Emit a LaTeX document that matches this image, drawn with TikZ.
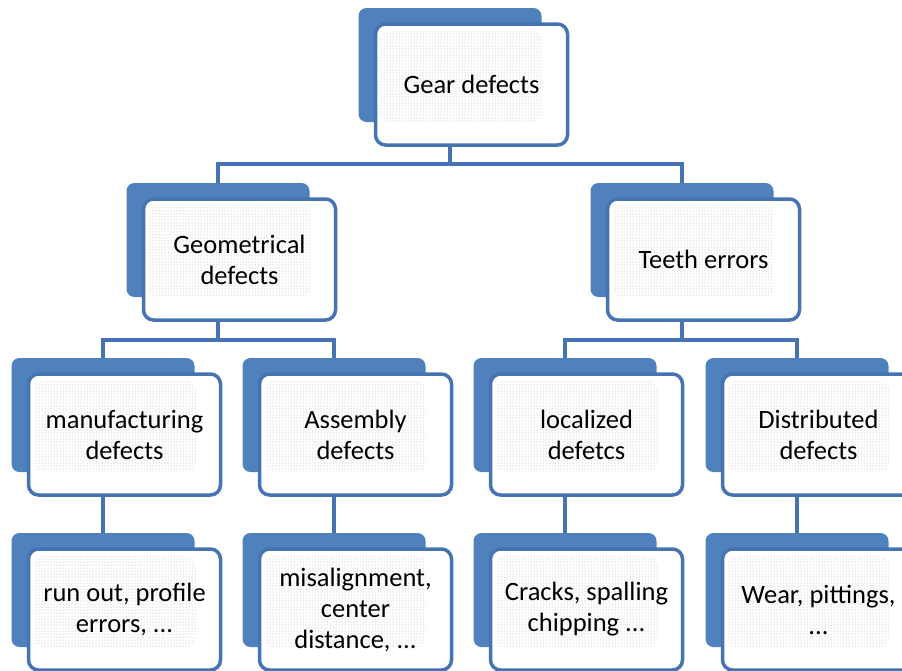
\documentclass[tikz,border=0pt]{standalone}
\usepackage{fontspec}
\setmainfont{Carlito}
\usetikzlibrary{patterns}
\definecolor{boxblue}{RGB}{79,129,189}
\definecolor{lineblue}{RGB}{70,115,178}

\begin{document}
\begin{tikzpicture}[x=1pt,y=-1pt,back/.style={shape=rectangle,fill=boxblue,rounded corners=8pt,minimum width=183pt,minimum height=114pt,inner sep=0pt},front/.style={shape=rectangle,draw=lineblue,line width=3.5pt,fill=white,rounded corners=10pt,minimum width=192pt,minimum height=121pt,inner sep=0pt,align=center,font=\fontsize{26.5}{31}\selectfont,path picture={\fill[pattern=dots,pattern color=gray!65] ([shift={(5,7)}]path picture bounding box.north west) rectangle ([shift={(-25,-23)}]path picture bounding box.south east);}},link/.style={draw=lineblue,line width=4pt}]
\def\dx{21.5};
\def\dy{19.5};
\def\xa{103};
\def\xb{334};
\def\xc{565};
\def\xd{797};
\def\ya{65};
\def\yb{240};
\def\yc{415};
\def\yd{590};

\useasboundingbox (0,0) rectangle (902,670);

\node[back] (bgear) at (450,\ya) {};
\node[front] (gear) at (450+\dx,\ya+\dy) {Gear defects};

\node[back] (bgeo) at (218,\yb) {};
\node[front] (geo) at (218+\dx,\yb+\dy) {Geometrical\\defects};
\node[back] (bteeth) at (682,\yb) {};
\node[front] (teeth) at (682+\dx,\yb+\dy) {Teeth errors};
\draw[link] (bgear |- gear.south) -- ++(0,17) coordinate (j1);
\draw[link] (bgeo.north) |- (j1) -| (bteeth.north);

\node[back] (bmanu) at (\xa,\yc) {};
\node[front] (manu) at (\xa+\dx,\yc+\dy) {manufacturing\\defects};
\node[back] (bassem) at (\xb,\yc) {};
\node[front] (assem) at (\xb+\dx,\yc+\dy) {Assembly\\defects};
\draw[link] (bgeo |- geo.south) -- ++(0,18) coordinate (j2);
\draw[link] (bmanu.north) |- (j2) -| (bassem.north);

\node[back] (blocal) at (\xc,\yc) {};
\node[front] (local) at (\xc+\dx,\yc+\dy) {localized\\defetcs};
\node[back] (bdistr) at (\xd,\yc) {};
\node[front] (distr) at (\xd+\dx,\yc+\dy) {Distributed\\defects};
\draw[link] (bteeth |- teeth.south) -- ++(0,18) coordinate (j3);
\draw[link] (blocal.north) |- (j3) -| (bdistr.north);

\node[back] (brunout) at (\xa,\yd) {};
\node[front] (runout) at (\xa+\dx,\yd+\dy) {run out, profile\\errors, ...};
\draw[link] (bmanu |- manu.south) -- (brunout.north);
\node[back] (bmisal) at (\xb,\yd) {};
\node[front] (misal) at (\xb+\dx,\yd+\dy) {misalignment,\\center\\distance, ...};
\draw[link] (bassem |- assem.south) -- (bmisal.north);
\node[back] (bcracks) at (\xc,\yd) {};
\node[front] (cracks) at (\xc+\dx,\yd+\dy) {Cracks, spalling\\chipping ...};
\draw[link] (blocal |- local.south) -- (bcracks.north);
\node[back] (bwear) at (\xd,\yd) {};
\node[front] (wear) at (\xd+\dx,\yd+\dy) {Wear, pittings,\\...};
\draw[link] (bdistr |- distr.south) -- (bwear.north);
\end{tikzpicture}
\end{document}
